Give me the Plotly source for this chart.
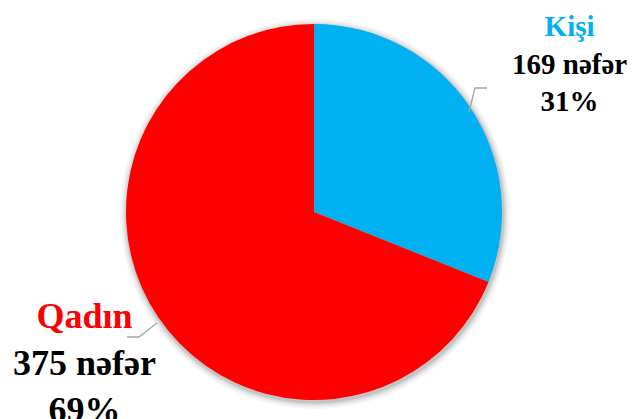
import plotly.graph_objects as go

categories = ["Kişi", "Qadın"]
values = [169, 375]
unit = "nəfər"
colors = ["#00B0F0", "#FF0000"]

W, H = 637, 419
cx, cy, r = 314, 212, 188

def px(x):
    return x / W

def py(y):
    return (H - y) / H

total = sum(values)
pcts = [round(v * 100 / total) for v in values]

fig = go.Figure()
fig.add_trace(go.Pie(
    labels=categories,
    values=values,
    sort=False,
    direction="clockwise",
    rotation=0,
    marker=dict(colors=colors, line=dict(width=0)),
    textinfo="none",
    hoverinfo="label+value+percent",
    showlegend=False,
    domain=dict(x=[px(cx - r), px(cx + r)], y=[py(cy + r), py(cy - r)]),
))

# soft shadow behind the pie
shapes = []
for grow, op in [(7, 0.035), (5, 0.05), (3, 0.07), (1.5, 0.09)]:
    shapes.append(dict(
        type="circle", xref="paper", yref="paper", layer="below",
        x0=px(cx - r - grow + 1), x1=px(cx + r + grow + 1),
        y0=py(cy + r + grow + 2), y1=py(cy - r - grow + 2),
        fillcolor=f"rgba(0,0,0,{op})", line=dict(width=0),
    ))

# leader lines
leader = "#A6A6A6"
def path(points):
    return "M " + " L ".join(f"{px(x)} {py(y)}" for x, y in points)

shapes.append(dict(type="path", xref="paper", yref="paper",
                   path=path([(469, 112), (475, 88), (487, 88)]),
                   line=dict(color=leader, width=1.3)))
shapes.append(dict(type="path", xref="paper", yref="paper",
                   path=path([(127, 337), (139, 337), (157, 323)]),
                   line=dict(color=leader, width=1.3)))

font_family = "Liberation Serif"
label_pos = [(569, 63, 29), (84, 363, 36)]
annotations = []
for cat, v, p, col, (lx, ly, fs) in zip(categories, values, pcts, colors, label_pos):
    annotations.append(dict(
        x=px(lx), y=py(ly), xref="paper", yref="paper",
        xanchor="center", yanchor="middle", showarrow=False,
        align="center",
        text=f"<span style='color:{col}'>{cat}</span><br>{v} {unit}<br>{p}%",
        font=dict(family=font_family, size=fs, color="#000000", weight="bold"),
    ))

fig.update_layout(
    width=W, height=H,
    margin=dict(l=0, r=0, t=0, b=0),
    paper_bgcolor="white",
    plot_bgcolor="white",
    shapes=shapes,
    annotations=annotations,
    font=dict(family=font_family),
)

fig.write_html("out.html", config={"displayModeBar": False},
               post_script="document.body.style.margin='0';")
